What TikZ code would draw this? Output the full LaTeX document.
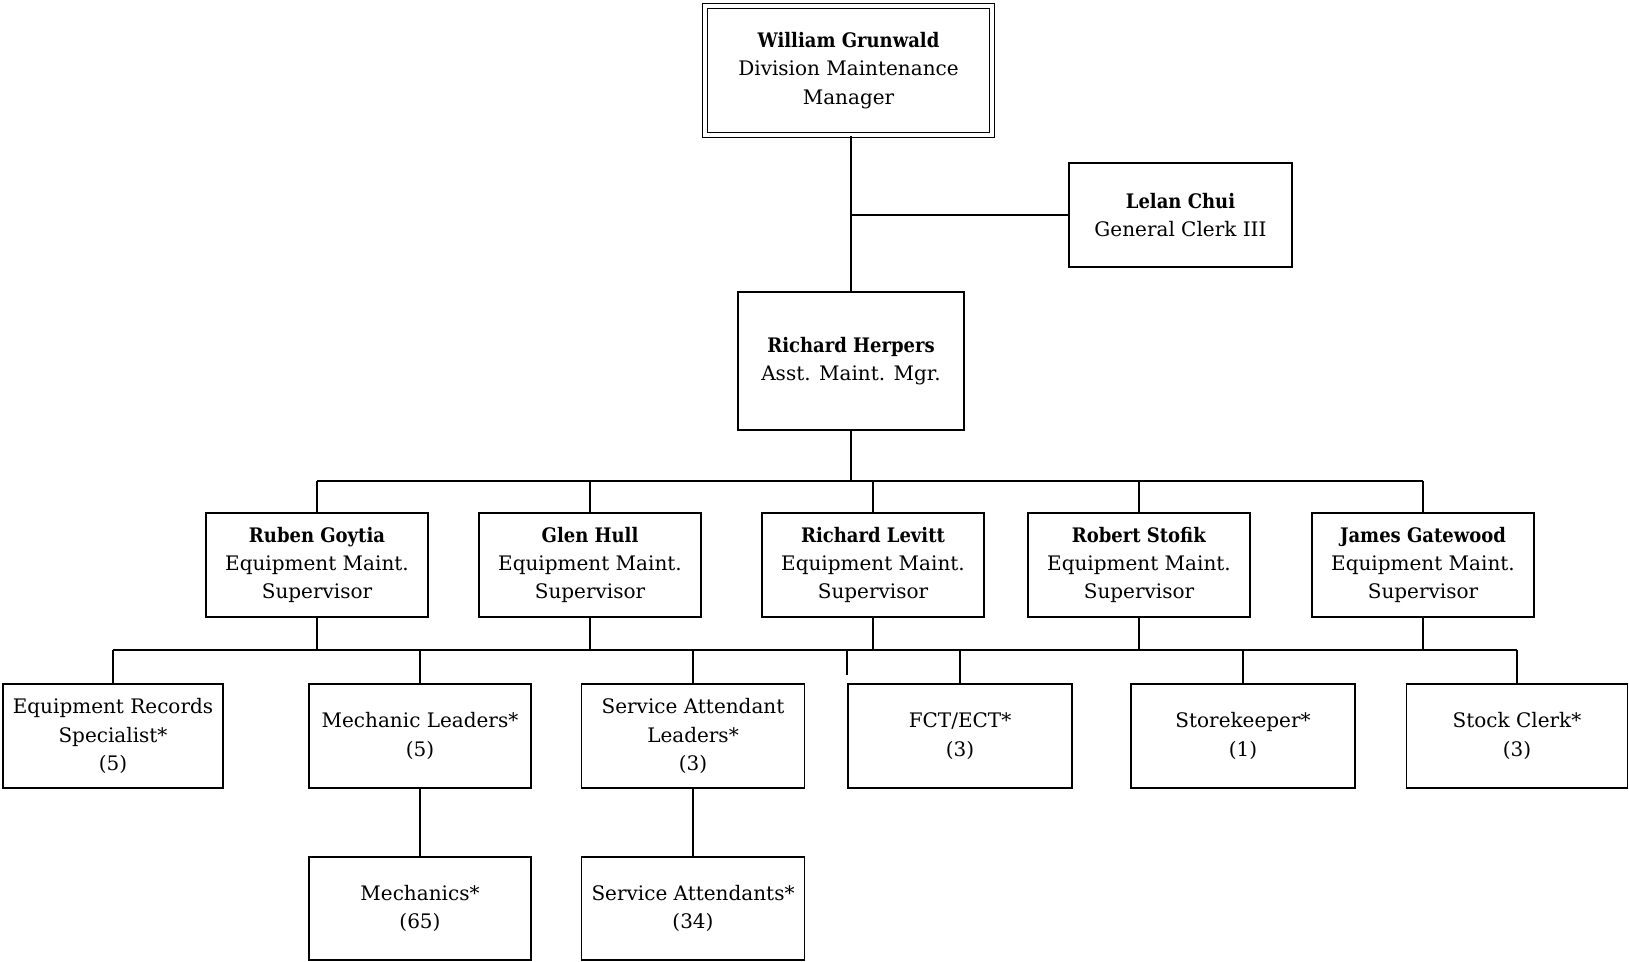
\documentclass[tikz,border=0pt]{standalone}
\usepackage{fontspec}
\setmainfont{DejaVu Serif}[BoldFont={DejaVu Serif Condensed Bold}]
\begin{document}
\begin{tikzpicture}[x=0.5pt,y=-0.5pt,
  box/.style={draw, line width=0.9pt, align=center, inner sep=0pt,
    font=\fontsize{10}{14.2}\selectfont},
  link/.style={line width=0.9pt}]
\useasboundingbox (0,0) rectangle (1629,962);
% top
\node[box, double, line width=0.8pt, double distance=1.6pt,
  minimum width=143.5pt, minimum height=64.5pt] (will) at (848.5,70.5)
  {\textbf{William Grunwald}\\Division Maintenance\\Manager};
\node[box, minimum width=111.5pt, minimum height=52pt] (lelan) at (1180.5,215)
  {\textbf{Lelan Chui}\\General Clerk III};
\node[box, minimum width=113pt, minimum height=69pt] (herp) at (851,361)
  {\textbf{Richard Herpers}\\Asst. Maint. Mgr.};
% supervisors
\foreach \n/\x/\name in {rg/317/Ruben Goytia, gh/590/Glen Hull, rl/873/Richard Levitt,
  rs/1139/Robert Stofik, jg/1423/James Gatewood}{
  \node[box, minimum width=111pt, minimum height=52pt] (\n) at (\x,565)
    {\textbf{\name}\\Equipment Maint.\\Supervisor};
}
% bottom row
\node[box, minimum width=110pt, minimum height=52pt] (er) at (113,736)
  {Equipment Records\\Specialist*\\(5)};
\node[box, minimum width=111pt, minimum height=52pt] (ml) at (420,736)
  {Mechanic Leaders*\\(5)};
\node[box, minimum width=111.5pt, minimum height=52pt] (sal) at (693,736)
  {Service Attendant\\Leaders*\\(3)};
\node[box, minimum width=112pt, minimum height=52pt] (fct) at (960,736)
  {FCT/ECT*\\(3)};
\node[box, minimum width=112pt, minimum height=52pt] (sk) at (1243,736)
  {Storekeeper*\\(1)};
\node[box, minimum width=110.5pt, minimum height=52pt] (sc) at (1517,736)
  {Stock Clerk*\\(3)};
\node[box, minimum width=111pt, minimum height=51.5pt] (mech) at (420,908.5)
  {Mechanics*\\(65)};
\node[box, minimum width=111.5pt, minimum height=51.5pt] (sa) at (693,908.5)
  {Service Attendants*\\(34)};
% connectors
\coordinate (b1) at (851,481);
\coordinate (b2) at (851,650);
\draw[link] (will.south -| herp.north) -- (herp.north);
\draw[link] (lelan.west) -- (lelan.west -| herp.north);
\draw[link] (herp.south) -- (b1);
\draw[link] (rg.north |- b1) -- (jg.north |- b1);
\foreach \n in {rg,gh,rl,rs,jg}{
  \draw[link] (\n.north |- b1) -- (\n.north);
  \draw[link] (\n.south) -- (\n.south |- b2);
}
\draw[link] (er.north |- b2) -- (sc.north |- b2);
\foreach \n in {er,ml,sal,fct,sk,sc}{
  \draw[link] (\n.north |- b2) -- (\n.north);
}
\coordinate (stub) at ([yshift=4pt]fct.north west);
\draw[link] (stub |- b2) -- (stub);
\draw[link] (ml.south) -- (mech.north);
\draw[link] (sal.south) -- (sa.north);
\end{tikzpicture}
\end{document}
